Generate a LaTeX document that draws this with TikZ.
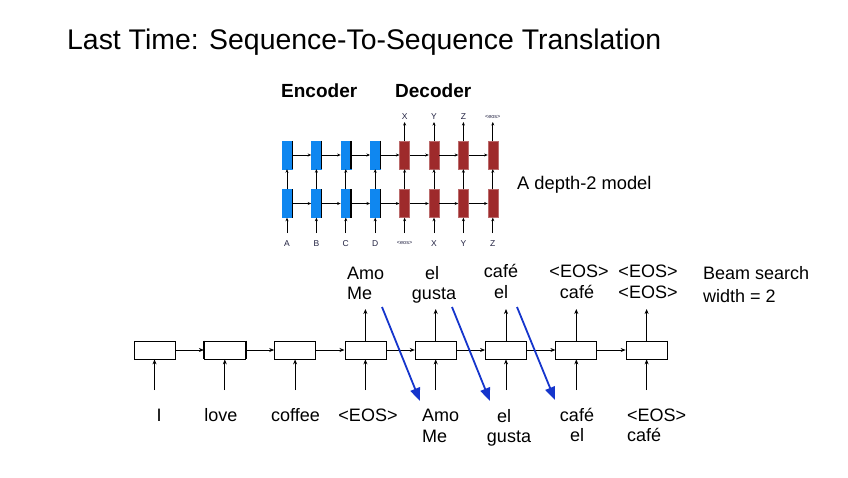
\documentclass[tikz,border=0pt]{standalone}
\usepackage{fontspec}
\setmainfont{Liberation Sans}
\usetikzlibrary{arrows.meta}
\definecolor{encblue}{HTML}{0F87F0}
\definecolor{decred}{HTML}{9E2A2B}
\definecolor{beamblue}{HTML}{1535CC}
\definecolor{smalltxt}{HTML}{202040}
\begin{document}
\begin{tikzpicture}[x=1pt,y=-1pt,
  lbl/.style={font=\fontsize{18}{20}\selectfont, anchor=base, inner sep=0pt},
  lblw/.style={lbl, anchor=base west},
  enccell/.style={draw=encblue, fill=encblue, minimum width=10pt, minimum height=28pt, inner sep=0pt},
  deccell/.style={draw=decred!70!white, fill=decred, minimum width=10pt, minimum height=28pt, inner sep=0pt},
  tiny/.style={font=\fontsize{8.5}{9}\selectfont, text=smalltxt, inner sep=0pt, anchor=base},
  tinier/.style={font=\fontsize{5.5}{6}\selectfont, text=smalltxt, inner sep=0pt, anchor=base},
  sarr/.style={-{Stealth[length=3.5pt,width=3pt]}, line width=0.7pt},
  sarrb/.style={-{Stealth[length=3.5pt,width=3pt]}, line width=1.3pt},
  rnnbox/.style={draw, line width=0.8pt, minimum width=41pt, minimum height=18pt, inner sep=0pt},
  arr/.style={-{Stealth[length=5pt,width=4pt]}, line width=0.8pt},
  beam/.style={beamblue, line width=1.8pt, -{Triangle[length=13pt,width=10pt]}}
]
\useasboundingbox (0,0) rectangle (848,477);

% title
\node[font=\fontsize{28.4}{30}\selectfont, anchor=base west, inner sep=0pt] (title) at (67,49) {Last Time: Sequence-To-Sequence Translation};

% depth-2 model
\node[font=\bfseries\fontsize{19}{20}\selectfont, anchor=base west, inner sep=0pt] (enc) at (281,97) {Encoder};
\node[font=\bfseries\fontsize{19}{20}\selectfont, anchor=base west, inner sep=0pt] (dec) at (395,97) {Decoder};

\foreach \i in {1,...,4} {
  \node[enccell] (u\i) at ({287+29.4*(\i-1)},155) {};
  \node[enccell] (l\i) at ({287+29.4*(\i-1)},203.5) {};
  \draw[line width=1.1pt] (u\i.north east) -- (u\i.south east);
  \draw[line width=1.1pt] (l\i.north east) -- (l\i.south east);
}
\foreach \i in {5,...,8} {
  \node[deccell] (u\i) at ({287+29.4*(\i-1)},155) {};
  \node[deccell] (l\i) at ({287+29.4*(\i-1)},203.5) {};
}
\foreach \i/\j in {1/2,2/3,3/4,4/5,5/6,6/7,7/8} {
  \draw[sarr] (u\i.east) -- (u\j.west);
  \draw[sarrb] (l\i.east) -- (l\j.west);
}
\foreach \i in {1,...,8} {
  \draw[sarr] (l\i.north) -- (u\i.south);
}
% bottom inputs of depth model
\foreach \i/\t in {1/A,2/B,3/C,4/D,6/X,7/Y,8/Z} {
  \node[tiny] (bi\i) at ({287+29.4*(\i-1)},246) {\t};
}
\node[tinier] (bi5) at (404.6,244) {<eos>};
\foreach \i in {1,...,8} {
  \coordinate (bic\i) at ({287+29.4*(\i-1)},233);
  \draw[sarr] (bic\i) -- (l\i.south);
}
% top outputs of depth model
\foreach \i/\t in {5/X,6/Y,7/Z} {
  \node[tiny] (to\i) at ({287+29.4*(\i-1)},119) {\t};
}
\node[tinier] (to8) at (492.8,118) {<eos>};
\foreach \i in {5,...,8} {
  \coordinate (toc\i) at ({287+29.4*(\i-1)},122);
  \draw[sarr] (u\i.north) -- (toc\i);
}
\node[font=\fontsize{18.3}{20}\selectfont, anchor=base west, inner sep=0pt] (depth) at (517,189) {A depth-2 model};

% beam search row
\foreach \i in {1,...,8} {
  \node[rnnbox] (b\i) at ({154.5+70.3*(\i-1)},350) {};
  \coordinate (in\i) at ({154.5+70.3*(\i-1)},390);
  \draw[arr] (in\i) -- (b\i.south);
}
\foreach \i/\j in {1/2,2/3,3/4,4/5,5/6,6/7,7/8} {
  \draw[arr] (b\i.east) -- (b\j.west);
}
\foreach \i in {4,...,8} {
  \coordinate (out\i) at ({154.5+70.3*(\i-1)},309);
  \draw[arr] (b\i.north) -- (out\i);
}
\draw[line width=1.6pt] (b2.north west) -- (b2.south west);
\draw[line width=1.6pt] (b2.north east) -- (b2.south east);
\draw[line width=1.6pt] (b8.north east) -- (b8.south east);

% top labels
\node[lblw] (t4a) at (347,279) {Amo};
\node[lblw] (t4b) at (347,299) {Me};
\node[lbl] (t5a) at (432,279) {el};
\node[lbl] (t5b) at (434,299) {gusta};
\node[lbl] (t6a) at (501,277) {café};
\node[lbl] (t6b) at (501,298) {el};
\node[lbl] (t7a) at (579,277) {<EOS>};
\node[lbl] (t7b) at (577,298) {café};
\node[lbl] (t8a) at (648,277) {<EOS>};
\node[lbl] (t8b) at (648,298) {<EOS>};
\node[lblw] (bs1) at (703,279) {Beam search};
\node[lblw] (bs2) at (703,302) {width = 2};

% bottom labels
\node[lbl] (w1) at (159,421) {I};
\node[lbl] (w2) at (221,421) {love};
\node[lbl] (w3) at (295.5,421) {coffee};
\node[lbl] (w4) at (368,421) {<EOS>};
\node[lblw] (w5a) at (422,421) {Amo};
\node[lblw] (w5b) at (422,442) {Me};
\node[lbl] (w6a) at (504,422) {el};
\node[lbl] (w6b) at (509,442) {gusta};
\node[lbl] (w7a) at (577,421) {café};
\node[lbl] (w7b) at (577,441) {el};
\node[lblw] (w8a) at (627,421) {<EOS>};
\node[lblw] (w8b) at (627,441) {café};

% beam arrows
\coordinate (s1) at (382,307); \coordinate (e1) at (420,401);
\coordinate (s2) at (452,307); \coordinate (e2) at (490,401);
\coordinate (s3) at (517,307); \coordinate (e3) at (555,400);
\draw[beam] (s1) -- (e1);
\draw[beam] (s2) -- (e2);
\draw[beam] (s3) -- (e3);
\end{tikzpicture}
\end{document}
